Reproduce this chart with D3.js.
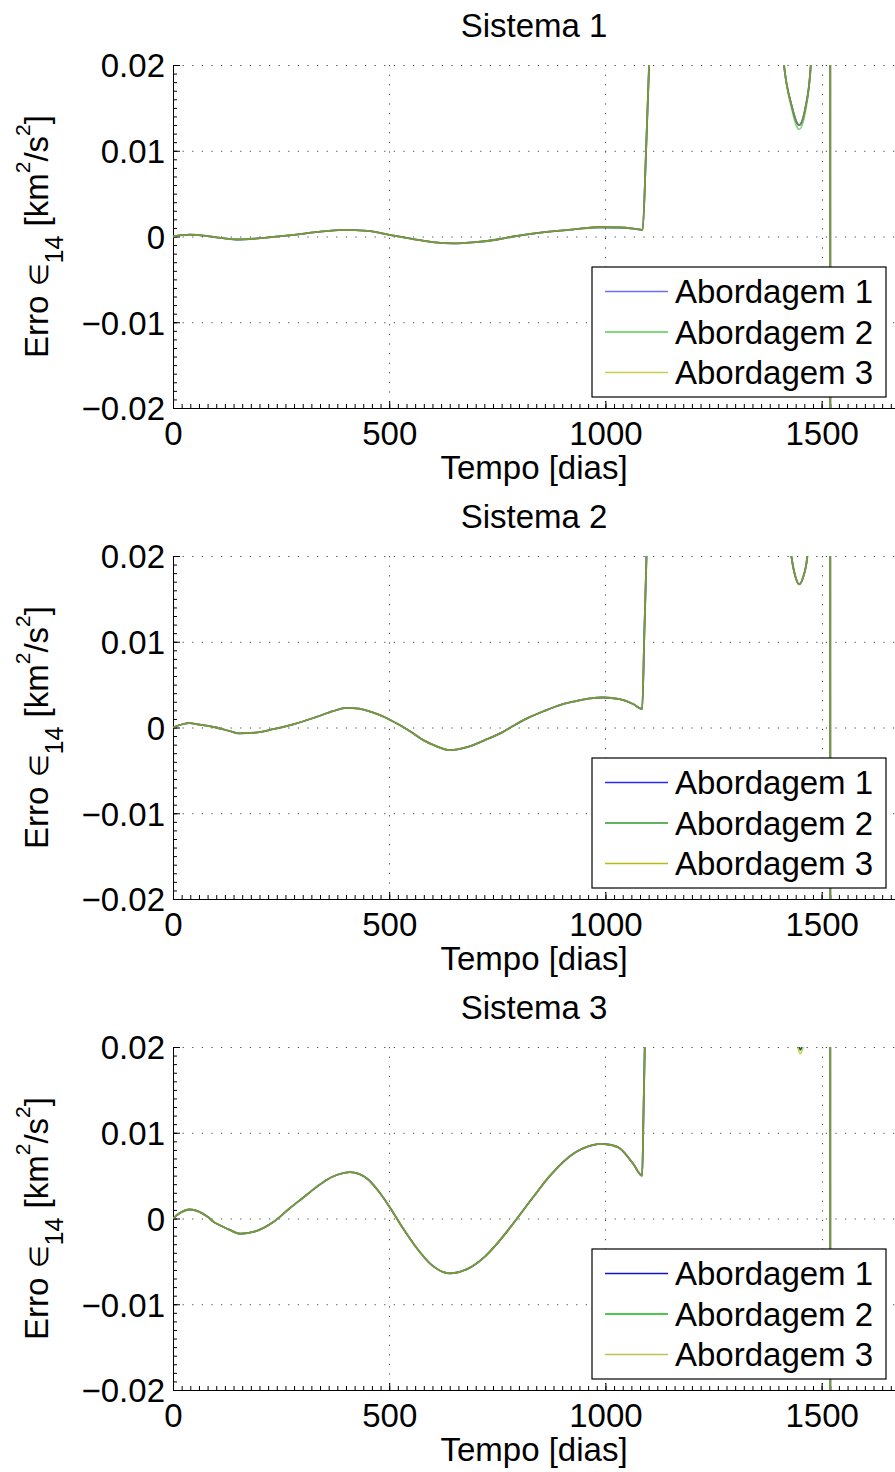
<!DOCTYPE html>
<html>
<head>
<meta charset="utf-8">
<script src="https://cdn.jsdelivr.net/npm/d3@7"></script>
<style>
  body { margin: 0; background: #fff; }
  svg { display: block; font-family: "Liberation Sans", Arial, sans-serif; }
</style>
</head>
<body>
<div class="chart"></div>
<script>
// ---- data ----
const legendLabels = ["Abordagem 1", "Abordagem 2", "Abordagem 3"];
const panelTitles = ["Sistema 1", "Sistema 2", "Sistema 3"];
const yTicks = [-0.02, -0.01, 0, 0.01, 0.02];
const yTickLabels = ["\u22120.02", "\u22120.01", "0", "0.01", "0.02"];
const xTicks = [0, 500, 1000, 1500];
const xTickLabels = ["0", "500", "1000", "1500"];

// Sistema 1
const days1 = [0, 20, 38, 60, 100, 147, 190, 232, 280, 330, 393, 450, 500, 550, 600, 648, 700, 750, 787, 850, 930, 987, 1033, 1064, 1086, 1094, 1101, 1110, 1200, 1300, 1380, 1413, 1430, 1448, 1462, 1475, 1490, 1519, 1521, 1600, 1680];
const sis1Ab1 = [0, 0.00015, 0.00023, 0.00015, -0.0001, -0.00035, -0.00025, -0.00005, 0.0002, 0.0005, 0.00078, 0.00065, 0.0002, -0.00025, -0.00065, -0.0008, -0.00065, -0.00035, 0, 0.00045, 0.00085, 0.00108, 0.00105, 0.00092, 0.00076, 0.01, 0.02, 0.035, 0.2, 0.2, 0.05, 0.02, 0.0154, 0.013, 0.0149, 0.02, 0.04, 0.3, -0.3, -0.3, -0.3];
const sis1Ab2 = [0, 0.00015, 0.00023, 0.00015, -0.0001, -0.00035, -0.00025, -0.00005, 0.0002, 0.0005, 0.00078, 0.00065, 0.0002, -0.00025, -0.00065, -0.0008, -0.00065, -0.00035, 0, 0.00045, 0.00085, 0.00108, 0.00105, 0.00092, 0.00076, 0.01, 0.02, 0.035, 0.2, 0.2, 0.05, 0.02, 0.0151, 0.0125, 0.0145, 0.02, 0.04, 0.3, -0.3, -0.3, -0.3];
const sis1Ab3 = [0, 0.00015, 0.00023, 0.00015, -0.0001, -0.00035, -0.00025, -0.00005, 0.0002, 0.0005, 0.00078, 0.00065, 0.0002, -0.00025, -0.00065, -0.0008, -0.00065, -0.00035, 0, 0.00045, 0.00085, 0.00108, 0.00105, 0.00092, 0.00076, 0.01, 0.02, 0.035, 0.2, 0.2, 0.05, 0.02, 0.0154, 0.013, 0.0149, 0.02, 0.04, 0.3, -0.3, -0.3, -0.3];

// Sistema 2
const days2 = [0, 20, 38, 60, 100, 130, 151, 190, 232, 280, 330, 370, 401, 430, 460, 490, 520, 550, 580, 610, 641, 680, 720, 760, 787, 820, 857, 900, 934, 965, 995, 1033, 1064, 1085, 1090, 1095, 1105, 1200, 1300, 1400, 1430, 1440, 1448, 1457, 1467, 1480, 1519, 1521, 1600, 1680];
const sis2Ab1 = [0, 0.00035, 0.0005, 0.00035, 0, -0.0004, -0.00068, -0.0006, -0.0002, 0.0004, 0.0012, 0.0019, 0.0023, 0.0022, 0.0018, 0.0012, 0.0004, -0.0005, -0.0015, -0.0022, -0.00265, -0.0023, -0.0015, -0.0006, 0.0002, 0.0011, 0.0019, 0.0027, 0.0031, 0.0034, 0.0035, 0.0033, 0.00274, 0.00216, 0.011, 0.02, 0.04, 0.2, 0.2, 0.04, 0.02, 0.0175, 0.0167, 0.0175, 0.02, 0.035, 0.3, -0.3, -0.3, -0.3];
const sis2Ab2 = [0, 0.00035, 0.0005, 0.00035, 0, -0.0004, -0.00068, -0.0006, -0.0002, 0.0004, 0.0012, 0.0019, 0.0023, 0.0022, 0.0018, 0.0012, 0.0004, -0.0005, -0.0015, -0.0022, -0.00265, -0.0023, -0.0015, -0.0006, 0.0002, 0.0011, 0.0019, 0.0027, 0.0031, 0.0034, 0.0035, 0.0033, 0.00274, 0.00216, 0.011, 0.02, 0.04, 0.2, 0.2, 0.04, 0.02, 0.0175, 0.0167, 0.0175, 0.02, 0.035, 0.3, -0.3, -0.3, -0.3];
const sis2Ab3 = [0, 0.00035, 0.0005, 0.00035, 0, -0.0004, -0.00068, -0.0006, -0.0002, 0.0004, 0.0012, 0.0019, 0.0023, 0.0022, 0.0018, 0.0012, 0.0004, -0.0005, -0.0015, -0.0022, -0.00265, -0.0023, -0.0015, -0.0006, 0.0002, 0.0011, 0.0019, 0.0027, 0.0031, 0.0034, 0.0035, 0.0033, 0.00274, 0.00216, 0.011, 0.02, 0.04, 0.2, 0.2, 0.04, 0.02, 0.0175, 0.0167, 0.0175, 0.02, 0.035, 0.3, -0.3, -0.3, -0.3];

// Sistema 3
const days3 = [0, 15, 38, 60, 80, 97, 105, 130, 155, 190, 232, 270, 300, 330, 355, 380, 409, 430, 450, 475, 499, 530, 560, 600, 640, 680, 720, 750, 779, 830, 872, 930, 960, 987, 1010, 1033, 1064, 1085, 1088, 1091, 1100, 1200, 1300, 1400, 1440, 1446, 1451, 1456, 1462, 1490, 1519, 1521, 1600, 1680];
const sis3Ab1 = [0, 0.0006, 0.00105, 0.0008, 0.0002, -0.0005, -0.0007, -0.0013, -0.00178, -0.0015, -0.0004, 0.0012, 0.0024, 0.0036, 0.0045, 0.0051, 0.0054, 0.0052, 0.0046, 0.0032, 0.0015, -0.001, -0.0032, -0.0055, -0.0064, -0.0059, -0.0045, -0.0029, -0.0011, 0.0023, 0.005, 0.0077, 0.0084, 0.0087, 0.0086, 0.0082, 0.0064, 0.005, 0.012, 0.02, 0.04, 0.2, 0.2, 0.04, 0.022, 0.0203, 0.0197, 0.0203, 0.022, 0.04, 0.3, -0.3, -0.3, -0.3];
const sis3Ab2 = [0, 0.0006, 0.00105, 0.0008, 0.0002, -0.0005, -0.0007, -0.0013, -0.00178, -0.0015, -0.0004, 0.0012, 0.0024, 0.0036, 0.0045, 0.0051, 0.0054, 0.0052, 0.0046, 0.0032, 0.0015, -0.001, -0.0032, -0.0055, -0.0064, -0.0059, -0.0045, -0.0029, -0.0011, 0.0023, 0.005, 0.0077, 0.0084, 0.0087, 0.0086, 0.0082, 0.0064, 0.005, 0.012, 0.02, 0.04, 0.2, 0.2, 0.04, 0.022, 0.0203, 0.0197, 0.0203, 0.022, 0.04, 0.3, -0.3, -0.3, -0.3];
const sis3Ab3 = [0, 0.0006, 0.00105, 0.0008, 0.0002, -0.0005, -0.0007, -0.0013, -0.00178, -0.0015, -0.0004, 0.0012, 0.0024, 0.0036, 0.0045, 0.0051, 0.0054, 0.0052, 0.0046, 0.0032, 0.0015, -0.001, -0.0032, -0.0055, -0.0064, -0.0059, -0.0045, -0.0029, -0.0011, 0.0023, 0.005, 0.0077, 0.0084, 0.0087, 0.0086, 0.0082, 0.0064, 0.005, 0.012, 0.02, 0.04, 0.2, 0.2, 0.04, 0.021, 0.0198, 0.0192, 0.0198, 0.021, 0.04, 0.3, -0.3, -0.3, -0.3];

const panelDays = [days1, days2, days3];
const panelSeries = [
  [sis1Ab1, sis1Ab2, sis1Ab3],
  [sis2Ab1, sis2Ab2, sis2Ab3],
  [sis3Ab1, sis3Ab2, sis3Ab3],
];

// line styling (the three curves sit on top of each other and blend to olive)
const lineColors = ["#0000ff", "#00b000", "#c0c000"];
const lineOpacity = [1, 0.5, 0.65];
// legend swatches look slightly different in each panel of the picture
const legendColors = [
  ["#6e6ef5", "#55cc55", "#cccc55"],
  ["#2a2af0", "#2a9a2a", "#baba10"],
  ["#1414c0", "#12b812", "#c0c050"],
];

// ---- layout ----
const W = 895, H = 1472;
const left = 173, right = 896;
const panelTop = 65, panelH = 343, panelStep = 491;
const fontSize = 33;

const svg = d3.select(".chart").append("svg")
  .attr("width", W).attr("height", H);

const x = d3.scaleLinear().domain([0, 1672]).range([left, right]);

panelTitles.forEach((title, p) => {
  const top = panelTop + p * panelStep;
  const bottom = top + panelH;
  const y = d3.scaleLinear().domain([-0.02, 0.02]).range([bottom, top]);
  const g = svg.append("g").attr("class", "panel");

  // dotted grid
  g.append("g").selectAll("line").data(yTicks).join("line")
    .attr("x1", left).attr("x2", W)
    .attr("y1", d => y(d) + 0.5).attr("y2", d => y(d) + 0.5)
    .attr("stroke", "#444").attr("stroke-width", 1)
    .attr("stroke-dasharray", "1.2,8.4");
  g.append("g").selectAll("line").data(xTicks.filter(d => d > 0)).join("line")
    .attr("x1", d => Math.round(x(d)) + 0.5).attr("x2", d => Math.round(x(d)) + 0.5)
    .attr("y1", top).attr("y2", bottom)
    .attr("stroke", "#444").attr("stroke-width", 1)
    .attr("stroke-dasharray", "1.2,8.4");

  // axes (ticks point inward)
  const yMinor = d3.range(-0.02, 0.02001, 0.001);
  const xMinor = d3.range(0, 1672, 20);
  g.append("g").attr("transform", `translate(${left},0)`)
    .call(d3.axisRight(y).tickValues(yMinor).tickSize(4).tickFormat(""))
    .call(a => a.select(".domain").remove());
  g.append("g").attr("transform", `translate(0,${bottom})`)
    .call(d3.axisTop(x).tickValues(xMinor).tickSize(4).tickFormat(""))
    .call(a => a.select(".domain").remove());

  const yAxis = g.append("g").attr("transform", `translate(${left},0)`)
    .call(d3.axisRight(y).tickValues(yTicks).tickSize(7).tickSizeOuter(0)
      .tickFormat((d, i) => yTickLabels[i]));
  yAxis.selectAll("text")
    .attr("x", -8).attr("dy", "0.36em").attr("text-anchor", "end")
    .attr("font-size", fontSize).attr("fill", "#000");

  const xAxis = g.append("g").attr("transform", `translate(0,${bottom})`)
    .call(d3.axisTop(x).tickValues(xTicks).tickSize(7).tickSizeOuter(0)
      .tickFormat((d, i) => xTickLabels[i]));
  xAxis.selectAll("text")
    .attr("y", 37).attr("dy", 0).attr("text-anchor", "middle")
    .attr("font-size", fontSize).attr("fill", "#000");
  g.selectAll(".domain, .tick line").attr("stroke", "#000");

  // clip + curves
  const clipId = "clip" + p;
  svg.append("clipPath").attr("id", clipId)
    .append("rect").attr("x", left).attr("y", top)
    .attr("width", right - left).attr("height", panelH);

  const days = panelDays[p];
  const line = d3.line()
    .x(d => x(d[0])).y(d => y(d[1]))
    .curve(d3.curveMonotoneX);

  g.append("g").attr("clip-path", `url(#${clipId})`)
    .selectAll("path").data(panelSeries[p]).join("path")
    .attr("d", vals => line(vals.map((v, i) => [days[i], v])))
    .attr("fill", "none")
    .attr("stroke", (d, i) => lineColors[i])
    .attr("stroke-opacity", (d, i) => lineOpacity[i])
    .attr("stroke-width", 1.8);

  // title
  g.append("text").attr("x", (left + W) / 2).attr("y", top - 28)
    .attr("text-anchor", "middle").attr("font-size", fontSize).text(title);

  // x label
  g.append("text").attr("x", (left + W) / 2).attr("y", bottom + 71)
    .attr("text-anchor", "middle").attr("font-size", fontSize).text("Tempo [dias]");

  // y label
  const yl = g.append("text")
    .attr("transform", `translate(48,${(top + bottom) / 2}) rotate(-90)`)
    .attr("text-anchor", "middle").attr("font-size", fontSize);
  yl.append("tspan").text("Erro ");
  yl.append("tspan").attr("font-size", 26).text("\u2208");
  yl.append("tspan").attr("dy", 15).attr("font-size", 25).text("14");
  yl.append("tspan").attr("dy", -15).text(" [km");
  yl.append("tspan").attr("dy", -18).attr("font-size", 21).text("2");
  yl.append("tspan").attr("dy", 18).text("/s");
  yl.append("tspan").attr("dy", -18).attr("font-size", 21).text("2");
  yl.append("tspan").attr("dy", 18).text("]");

  // legend
  const lg = g.append("g").attr("transform", `translate(592,${top + 202})`);
  lg.append("rect").attr("x", 0).attr("y", 0).attr("width", 294).attr("height", 130)
    .attr("fill", "#fff").attr("stroke", "#000").attr("stroke-width", 1.2);
  const rows = lg.selectAll("g.row").data(legendLabels).join("g")
    .attr("class", "row")
    .attr("transform", (d, i) => `translate(0,${36 + i * 40.5})`);
  rows.append("line").attr("x1", 13).attr("x2", 76).attr("y1", -11.5).attr("y2", -11.5)
    .attr("stroke", (d, i) => legendColors[p][i]).attr("stroke-width", 1.5);
  rows.append("text").attr("x", 83).attr("y", 0)
    .attr("font-size", fontSize).text(d => d);
});
</script>
</body>
</html>
